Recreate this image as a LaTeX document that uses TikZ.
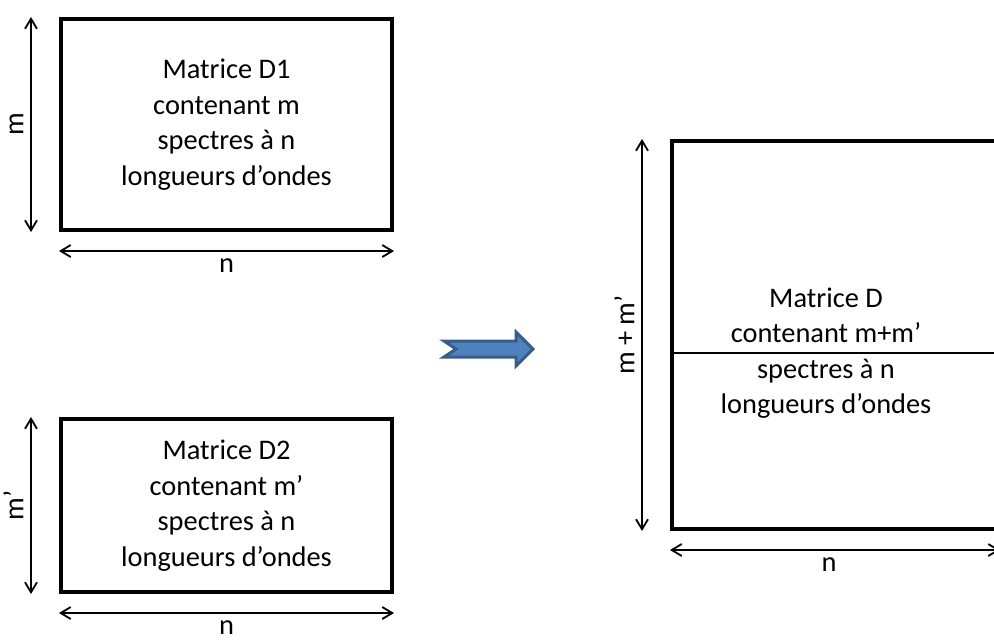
\documentclass[tikz,border=0pt]{standalone}
\usepackage{fontspec}
\setmainfont{Carlito}
\usetikzlibrary{arrows.meta, positioning}
\definecolor{arrowblue}{HTML}{4F81BD}
\definecolor{arrowedge}{HTML}{385D8A}

\begin{document}
\begin{tikzpicture}[x=0.5pt,y=-0.5pt,font=\fontsize{14.2}{17.75}\selectfont,
    mat/.style={draw,line width=2pt,align=center,inner sep=0pt},
    dim/.style={{Straight Barb[length=5pt,width=6pt]}-{Straight Barb[length=5pt,width=6pt]},line width=0.9pt},
    blockarrow/.style={fill=arrowblue,draw=arrowedge,line width=1.5pt,line join=miter}]
    \useasboundingbox (0,0) rectangle (994,639);
    \clip (0,0) rectangle (994,639);
    \node[mat,minimum width=165.5pt,minimum height=105.5pt](d1) at (226.5,124.5){Matrice D1\\contenant m\\spectres à n\\longueurs d’ondes};
    \node[mat,minimum width=165.5pt,minimum height=86.5pt](d2) at (226.5,505.5){Matrice D2\\contenant m’\\spectres à n\\longueurs d’ondes};
    \node[mat,minimum width=163pt,minimum height=194pt](dd) at (835,335){};
    \node[align=center,inner sep=0pt](ddtxt) at (826,353){Matrice D\\contenant m+m’\\spectres à n\\longueurs d’ondes};
    \draw[line width=1.3pt](dd.west |- ddtxt) -- (dd.east |- ddtxt);
    % dimensions
    \draw[dim]([xshift=-14pt]d1.south west) -- node[above,sloped]{m} ([xshift=-14pt]d1.north west);
    \draw[dim]([yshift=-9.5pt]d1.south west) -- node[below]{n} ([yshift=-9.5pt]d1.south east);
    \draw[dim]([xshift=-14pt]d2.south west) -- node[above,sloped]{m’} ([xshift=-14pt]d2.north west);
    \draw[dim]([yshift=-9.5pt]d2.south west) -- node[below]{n} ([yshift=-9.5pt]d2.south east);
    \draw[dim]([xshift=-14pt]dd.south west) -- node[above,sloped]{m + m’} ([xshift=-14pt]dd.north west);
    \draw[dim]([yshift=-9.5pt]dd.south west) -- node[below,xshift=-3pt]{n} ([yshift=-9.5pt]dd.south east);
    % arrow
    \draw[blockarrow](444,341) -- (516,341) -- (516,332) -- (533,349) -- (516,366) -- (516,357) -- (444,357) -- (456,349) -- cycle;
\end{tikzpicture}
\end{document}
